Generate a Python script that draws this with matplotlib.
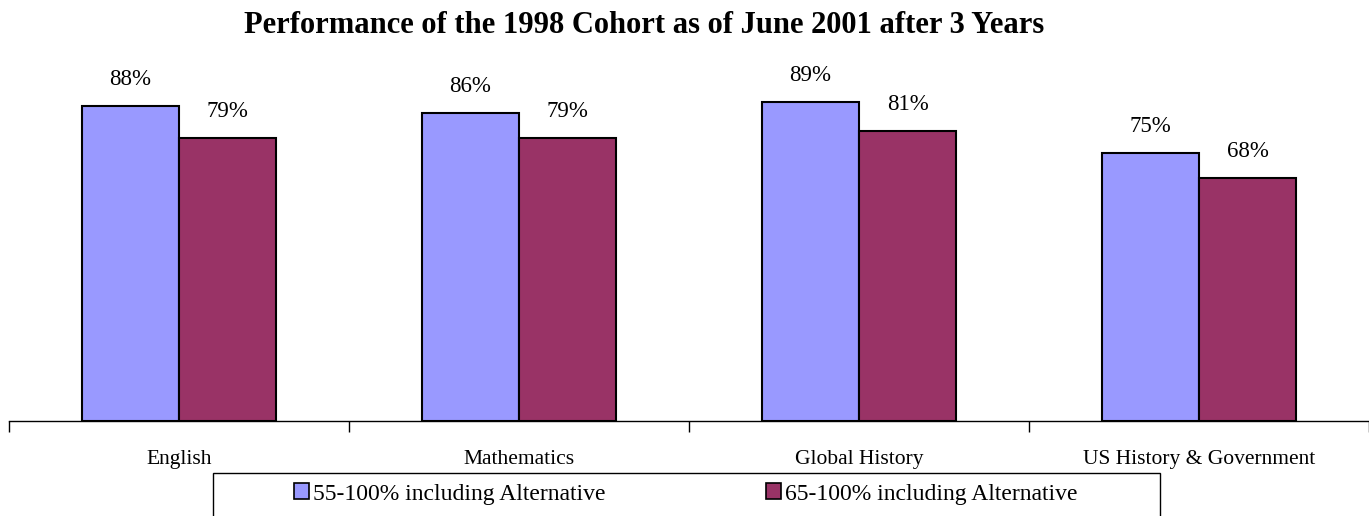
import matplotlib.pyplot as plt
import matplotlib.patches as mpatches
import numpy as np

plt.rcParams['font.family'] = ['Liberation Serif', 'DejaVu Serif']

subjects = ["English", "Mathematics", "Global History", "US History & Government"]
series_names = ["55-100% including Alternative", "65-100% including Alternative"]
pct_55 = [88, 86, 89, 75]
pct_65 = [79, 79, 81, 68]
colors = ["#9999FF", "#993366"]

fig = plt.figure(figsize=(13.69, 5.16), dpi=100)
ax = fig.add_axes([9 / 1369, 95 / 516, 1360 / 1369, 358 / 516])

x = np.arange(len(subjects))
w = 0.286
b1 = ax.bar(x - w / 2, pct_55, w, color=colors[0], edgecolor="black", linewidth=1.5, label=series_names[0])
b2 = ax.bar(x + w / 2, pct_65, w, color=colors[1], edgecolor="black", linewidth=1.5, label=series_names[1])

for bars, vals in ((b1, pct_55), (b2, pct_65)):
    for r, v in zip(bars, vals):
        ax.annotate(f"{v}%", (r.get_x() + r.get_width() / 2, v), xytext=(0, 11.5),
                    textcoords="offset points", ha="center", va="bottom", fontsize=16.5)

ax.set_xlim(-0.5, len(subjects) - 0.5)
ax.set_ylim(0, 100)
for s in ("top", "right", "left"):
    ax.spines[s].set_visible(False)
ax.spines["bottom"].set_linewidth(1.0)
ax.set_yticks([])
ax.set_xticks(np.arange(len(subjects) + 1) - 0.5)
ax.set_xticklabels([])
ax.tick_params(axis="x", which="major", length=8, width=1.0, direction="out")
ax.set_xticks(x, minor=True)
ax.set_xticklabels(subjects, minor=True, fontsize=15.5)
ax.tick_params(axis="x", which="minor", length=0, pad=21)

fig.text(644 / 1369, 1 - 33 / 516, "Performance of the 1998 Cohort as of June 2001 after 3 Years",
         ha="center", va="baseline", fontsize=22, fontweight="bold")

# legend box, cut off at the bottom edge
fig.patches.append(mpatches.Rectangle((213 / 1369, -0.05), 947 / 1369, 0.05 + 43 / 516,
                                      transform=fig.transFigure, fill=False,
                                      edgecolor="black", linewidth=1.0))
handles = [mpatches.Patch(facecolor=c, edgecolor="black", linewidth=1.2) for c in colors]
fig.legend(handles, series_names, loc="center left", bbox_to_anchor=(294 / 1369, 1 - 494 / 516),
           ncol=2, frameon=False, fontsize=17, handlelength=0.65, handleheight=0.65,
           handletextpad=0.15, columnspacing=6.8, borderpad=0, borderaxespad=0)

fig.savefig("out.png", dpi=100)
